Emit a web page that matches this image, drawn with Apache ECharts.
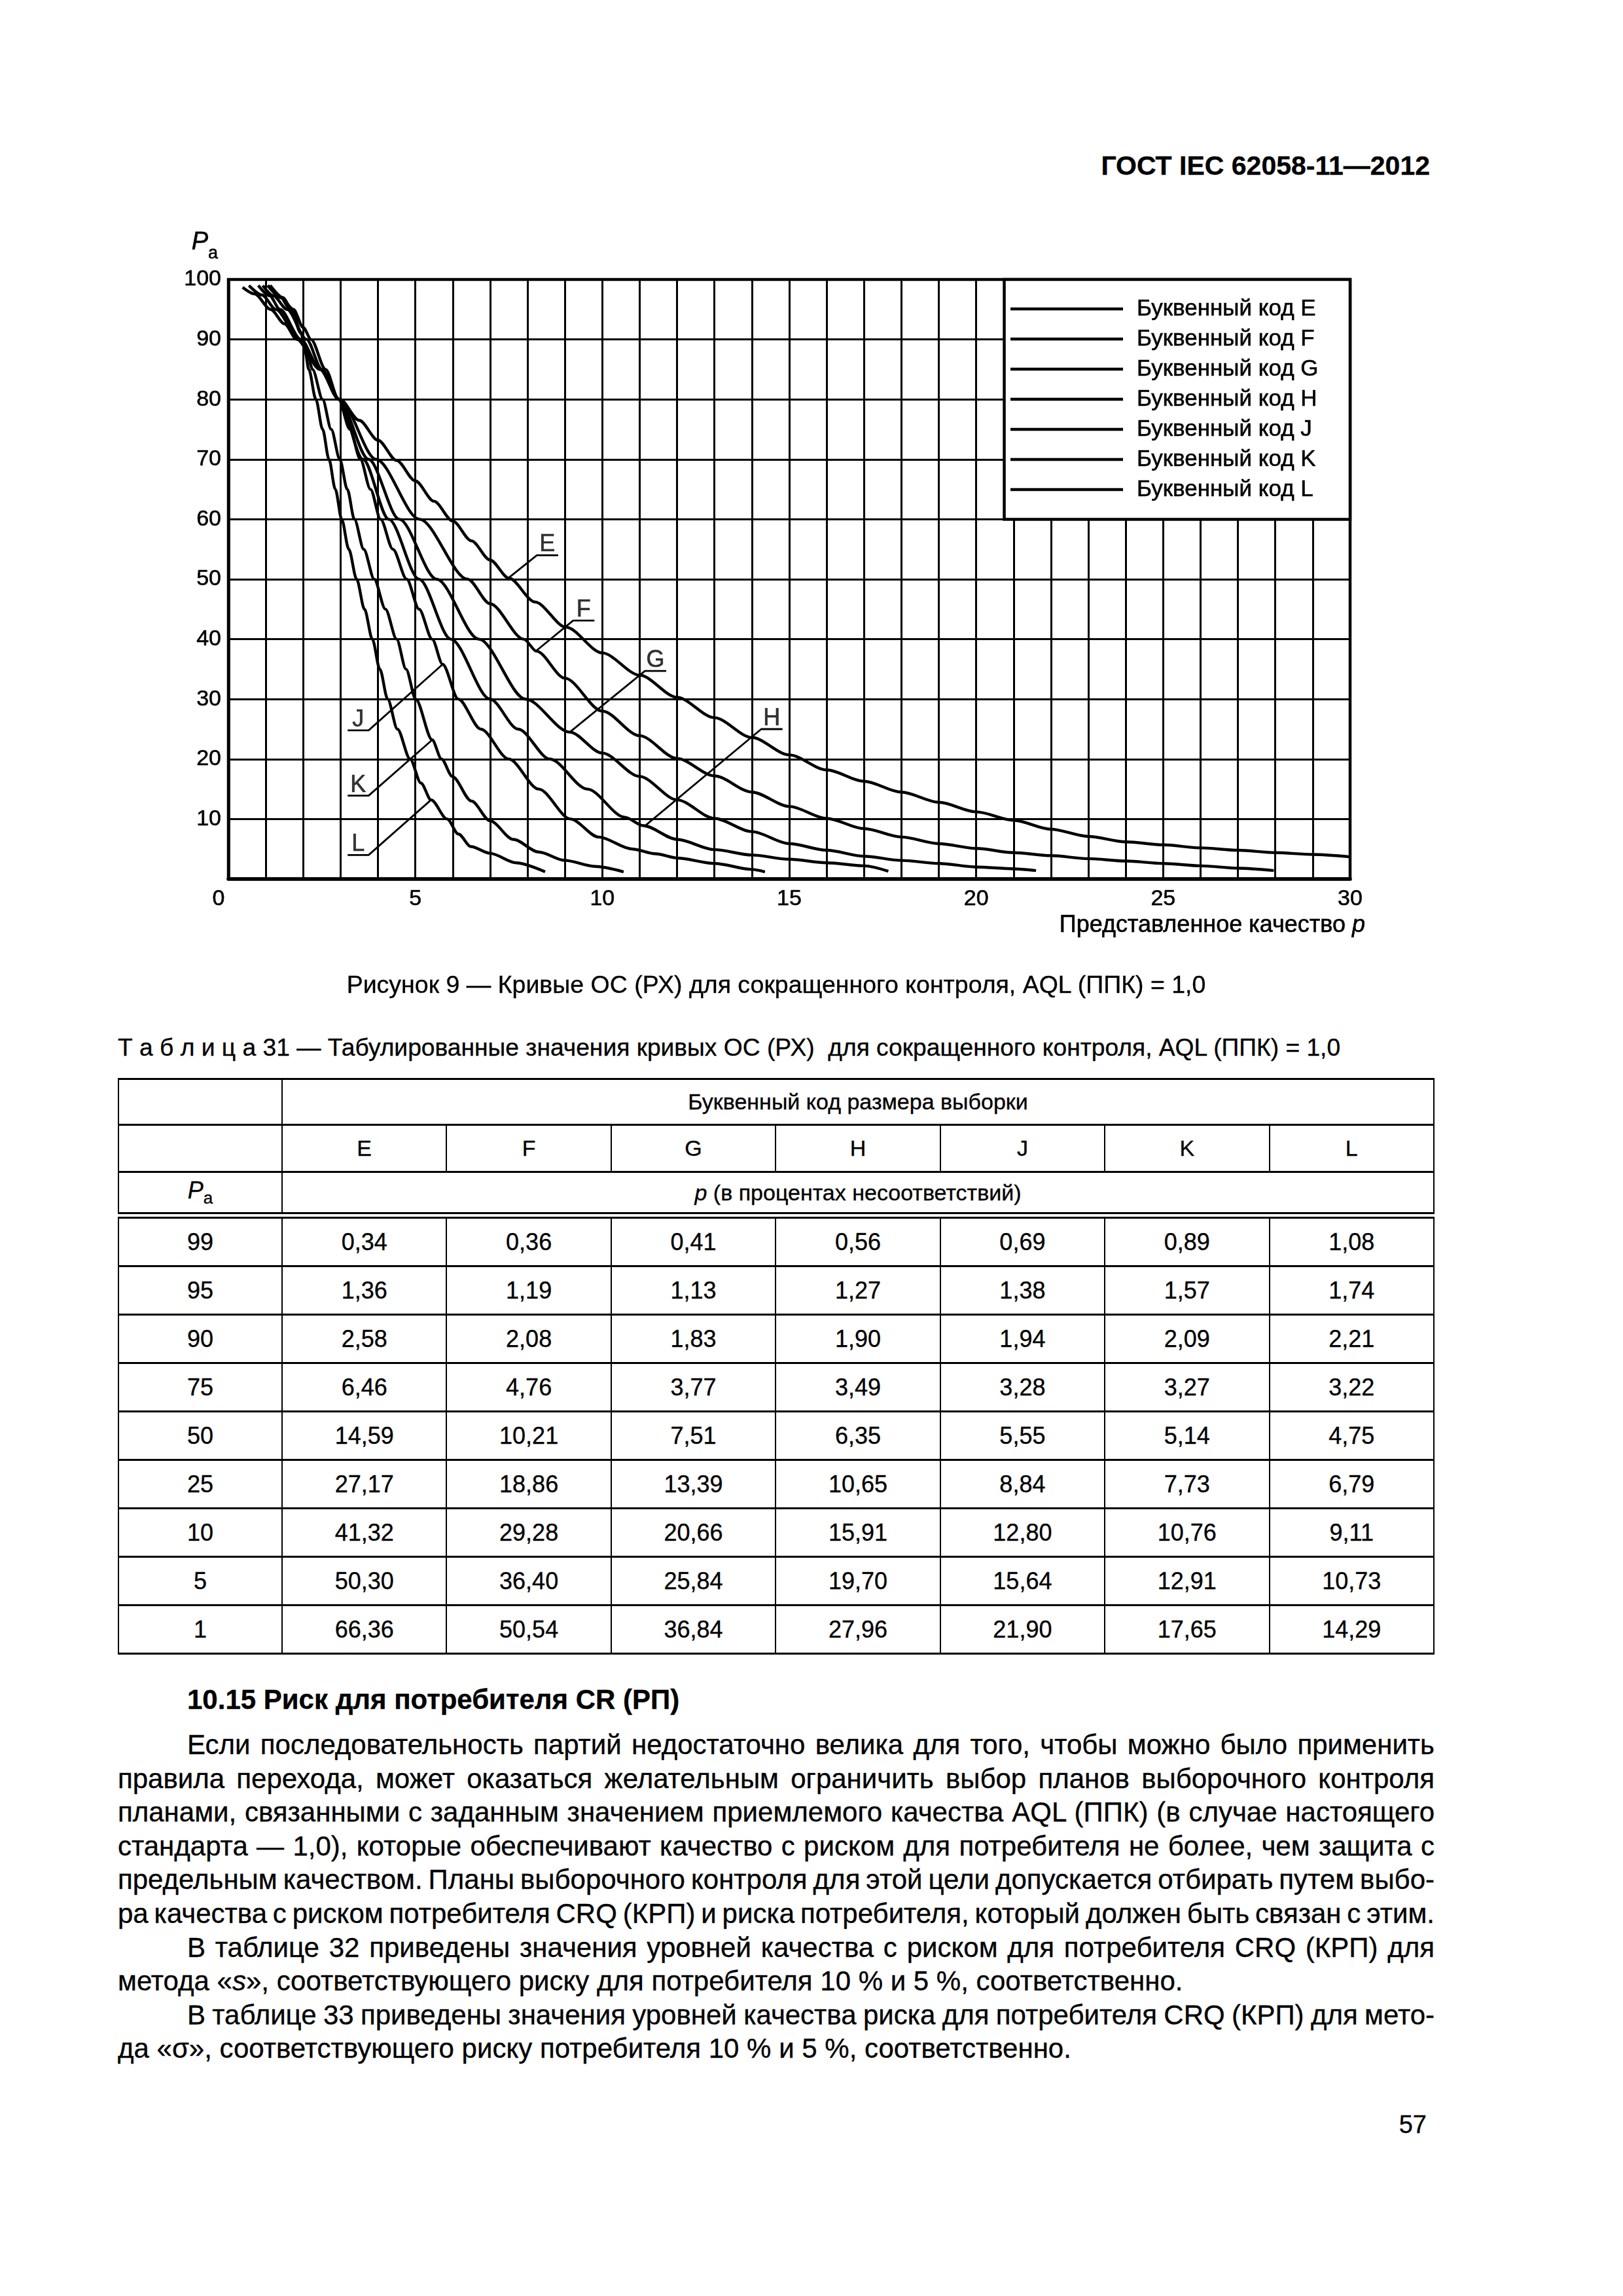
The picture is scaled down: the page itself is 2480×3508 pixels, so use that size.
<!DOCTYPE html>
<html><head><meta charset="utf-8">
<script src="https://cdn.jsdelivr.net/npm/echarts/dist/echarts.min.js"></script>
<style>
html,body{margin:0;padding:0;background:#fff;}
body{width:2480px;height:3508px;position:relative;overflow:hidden;font-family:"Liberation Sans",Arial,sans-serif;color:#000;-webkit-text-stroke:0.35px #000;}
#chart{position:absolute;left:0;top:0;width:2480px;height:1560px;}
.abs{position:absolute;white-space:nowrap;line-height:1.15;}
#hdr{right:295px;top:230px;font-size:41px;font-weight:bold;}
#cap{left:180px;width:2012px;top:1483px;font-size:37.5px;text-align:center;}
#ttl{left:180px;top:1579px;font-size:37.2px;}
table{position:absolute;left:180px;top:1647px;width:2012px;border-collapse:collapse;table-layout:fixed;font-size:36px;}
td{border-left:2px solid #000;border-right:2px solid #000;border-top:3px solid #000;border-bottom:3px solid #000;text-align:center;vertical-align:middle;padding:0;}
tr.h td{font-size:34px;}
tr.dbl td{border-bottom:10px double #000;}
tr.d td{height:71px;}
#h2{left:286px;top:2573px;font-size:42px;font-weight:bold;}
.ln{position:absolute;left:180px;width:2012px;font-size:42px;line-height:51px;white-space:nowrap;}
.ind{left:286px;width:1906px;}
#pg{right:300px;top:3225px;font-size:38px;}
</style></head>
<body>
<div id="hdr" class="abs">ГОСТ IEC 62058-11—2012</div>
<div id="chart"></div>
<div id="cap" class="abs">Рисунок 9 — Кривые ОС (РХ) для сокращенного контроля, AQL (ППК) = 1,0</div>
<div id="ttl" class="abs">Т а б л и ц а 31 — Табулированные значения кривых ОС (РХ)&nbsp; для сокращенного контроля, AQL (ППК) = 1,0</div>
<table id="tbl"></table>
<div id="h2" class="abs">10.15 Риск для потребителя CR (РП)</div>
<div id="txt"></div>
<div id="pg" class="abs">57</div>
<script>
// ---------- chart data (p, Pa) ----------
const curveE = [[0.38,98.7],[0.7,97.6],[1.13,95],[1.5,92.6],[1.83,90],[2.45,85],[2.98,80],[3.5,76.5],[4.0,73.2],[4.5,69.8],[5.0,66.4],[5.5,63.0],[6.0,59.7],[6.5,56.4],[7.0,53.2],[7.5,50.2],[8.2,46.2],[9.03,42],[10,37.7],[11,34.0],[12,30.3],[13,26.9],[14,23.6],[15,20.7],[16,18.2],[17,16.3],[18,14.5],[19,12.8],[20,11.2],[21,9.8],[22,8.3],[23,7.1],[24,6.2],[25,5.7],[26,5.2],[27,4.8],[28,4.4],[29,4.1],[30,3.7]];
const curveF = [[0.55,99],[0.9,97.4],[1.27,95],[1.9,90],[2.45,85],[2.97,80],[3.95,70],[5.11,60],[6.4,50],[7.0,45.9],[7.9,40],[8.24,38],[9.0,33.5],[10,28],[11,23.9],[12,20.1],[13,17.2],[14,14.5],[15,12.1],[16,10.1],[17,8.4],[18,7.0],[19,5.9],[20,5.1],[21,4.4],[22,3.9],[23,3.4],[24,3.0],[25,2.6],[26,2.2],[27,1.8],[27.96,1.4]];
const curveG = [[0.8,99],[1.1,97.3],[1.38,95],[1.94,90],[2.45,85],[2.95,80],[3.75,70],[4.57,60],[5.57,50],[6.7,40],[7.95,30],[9.13,24.5],[10,21],[11,17.1],[12,13.2],[13,10.1],[14,7.9],[15,5.9],[16,4.8],[17,3.8],[18,3.1],[19,2.6],[20,2.0],[21,1.7],[21.6,1.4]];
const curveH = [[0.92,99],[1.2,97.3],[1.57,95],[2.09,90],[2.5,85],[2.95,80],[3.6,70],[4.29,60],[5.1,50],[5.95,40],[7.0,30],[7.75,25],[8.6,20],[9.6,15],[10.6,10.3],[11.1,8.9],[12,6.6],[13,4.9],[14,4.0],[15,3.3],[16,2.7],[17,2.2],[17.65,1.3]];
const curveJ = [[1.05,99],[1.4,97],[1.74,95],[2.0,92],[2.21,90],[2.6,85],[2.95,80],[3.25,75],[3.53,70],[3.8,65],[4.07,60],[4.4,55],[4.77,50],[5.1,45],[5.45,40],[5.73,35.8],[6.15,30],[6.75,25],[7.5,20],[8.3,15],[9.15,10],[9.9,7],[10.8,5],[11.43,4.2],[12,3.5],[13,2.6],[14,1.6],[14.35,1.2]];
const curveK = [[1.08,99],[1.4,97],[1.65,95],[1.95,91],[2.1,88],[2.25,85],[2.52,80],[2.75,75],[2.98,70],[3.18,65],[3.37,60],[3.62,55],[3.9,50],[4.2,45],[4.5,40],[4.75,35],[5.01,30],[5.45,23.2],[5.7,20],[5.99,17.1],[6.5,13],[7.0,9.7],[7.62,6.6],[8.3,4.5],[9.0,3.1],[9.8,2.1],[10.57,1.2]];
const curveL = [[1.12,99],[1.45,97],[1.7,95],[1.95,91],[2.05,88],[2.15,85],[2.34,80],[2.52,75],[2.69,70],[2.86,65],[3.03,60],[3.22,55],[3.43,50],[3.64,45],[3.85,40],[4.05,35],[4.26,30],[4.52,25],[4.86,20],[5.15,16],[5.42,13.2],[5.85,10],[6.15,7.5],[6.49,5.4],[6.99,4.3],[7.7,2.7],[8.47,1.2]];
const curveCodes = ['E','F','G','H','J','K','L'];
const curveNames = curveCodes.map(c => 'Буквенный код ' + c);
const curves = [curveE, curveF, curveG, curveH, curveJ, curveK, curveL];

// leader lines of the curve labels (tip on curve -> knee -> end of underline)
const leaderE = [[7.49,50.2],[8.25,54],[8.82,54]];
const leaderF = [[8.24,38.1],[9.22,43.1],[9.79,43.1]];
const leaderG = [[9.13,24.5],[11.14,34.7],[11.71,34.7]];
const leaderH = [[11.14,8.85],[14.25,25.0],[14.82,25.0]];
const leaderJ = [[5.73,35.8],[3.75,24.8],[3.19,24.8]];
const leaderK = [[5.45,23.2],[3.75,13.9],[3.19,13.9]];
const leaderL = [[5.42,13.2],[3.75,4.0],[3.19,4.0]];
const leaders = [leaderE, leaderF, leaderG, leaderH, leaderJ, leaderK, leaderL];
const labelPoints = [[8.53,54,'E'],[9.5,43.1,'F'],[11.42,34.7,'G'],[14.53,25.0,'H'],[3.47,24.8,'J'],[3.47,13.9,'K'],[3.47,4.0,'L']];

// axis ticks
const pTicks = [0,5,10,15,20,25,30];
const paTicks = [10,20,30,40,50,60,70,80,90,100];
const legendBox = [[20.75,100],[30,60]];

// ---------- table data ----------
const tCodes = ['E','F','G','H','J','K','L'];
const tPa = ['99','95','90','75','50','25','10','5','1'];
const tE = ['0,34','1,36','2,58','6,46','14,59','27,17','41,32','50,30','66,36'];
const tF = ['0,36','1,19','2,08','4,76','10,21','18,86','29,28','36,40','50,54'];
const tG = ['0,41','1,13','1,83','3,77','7,51','13,39','20,66','25,84','36,84'];
const tH = ['0,56','1,27','1,90','3,49','6,35','10,65','15,91','19,70','27,96'];
const tJ = ['0,69','1,38','1,94','3,28','5,55','8,84','12,80','15,64','21,90'];
const tK = ['0,89','1,57','2,09','3,27','5,14','7,73','10,76','12,91','17,65'];
const tL = ['1,08','1,74','2,21','3,22','4,75','6,79','9,11','10,73','14,29'];
const tCols = [tE,tF,tG,tH,tJ,tK,tL];

// ---------- text ----------
const textLines = [
 ['Если последовательность партий недостаточно велика для того, чтобы можно было применить', 'ind j'],
 ['правила перехода, может оказаться желательным ограничить выбор планов выборочного контроля', 'j'],
 ['планами, связанными с заданным значением приемлемого качества AQL (ППК) (в случае настоящего', 'j'],
 ['стандарта — 1,0), которые обеспечивают качество с риском для потребителя не более, чем защита с', 'j'],
 ['предельным качеством. Планы выборочного контроля для этой цели допускается отбирать путем выбо-', 'j'],
 ['ра качества с риском потребителя CRQ (КРП) и риска потребителя, который должен быть связан с этим.', 'j'],
 ['В таблице 32 приведены значения уровней качества с риском для потребителя CRQ (КРП) для', 'ind j'],
 ['метода «<i>s</i>», соответствующего риску для потребителя 10 % и 5 %, соответственно.', ''],
 ['В таблице 33 приведены значения уровней качества риска для потребителя CRQ (КРП) для мето-', 'ind j'],
 ['да «σ», соответствующего риску потребителя 10 % и 5 %, соответственно.', '']
];

// build table and text
(function(){
  const t = document.getElementById('tbl');
  let h = '<colgroup><col style="width:250px">' + tCodes.map(()=>'<col>').join('') + '</colgroup>';
  h += '<tr class="h"><td style="height:67px"></td><td colspan="7">Буквенный код размера выборки</td></tr>';
  h += '<tr class="h"><td style="height:69px"></td>' + tCodes.map(c=>'<td>'+c+'</td>').join('') + '</tr>';
  h += '<tr class="h dbl"><td style="height:60px;font-size:36px"><i>P</i><sub style="font-size:26px">a</sub></td><td colspan="7"><i>p</i> (в процентах несоответствий)</td></tr>';
  tPa.forEach((pa,i)=>{
    h += '<tr class="d"><td>'+pa+'</td>' + tCols.map(c=>'<td>'+c[i]+'</td>').join('') + '</tr>';
  });
  t.innerHTML = h;
  const tx = document.getElementById('txt');
  let s = '';
  textLines.forEach((l,i)=>{
    s += '<div class="ln '+l[1]+'" style="top:'+(2640+i*51.6)+'px"><span>'+l[0]+'</span></div>';
  });
  tx.innerHTML = s;
  document.querySelectorAll('.ln.j').forEach(el=>{
    const sp = el.firstChild;
    const nat = sp.getBoundingClientRect().width;
    const target = el.clientWidth;
    const n = (sp.textContent.match(/ /g)||[]).length;
    if(n>0) el.style.wordSpacing = ((target-nat)/n)+'px';
  });
})();

// ---------- chart ----------
const FF = '"Liberation Sans", Arial, sans-serif';
const TB = {textBorderColor:'#000', textBorderWidth:0.6};
const chart = echarts.init(document.getElementById('chart'), null, {renderer:'canvas', devicePixelRatio:1});
const series = [];
curves.forEach((c,i)=>{
  const s = {
    name: curveNames[i], type:'line', data:c, showSymbol:false, symbol:'none',
    smooth:0.3, smoothMonotone:'x', silent:true,
    lineStyle:{color:'#000', width:4.4}, z:3
  };
  if(i===0){
    s.markArea = {silent:true, itemStyle:{color:'#fff', borderColor:'#000', borderWidth:4.5, opacity:1},
      data:[[{coord:legendBox[0]},{coord:legendBox[1]}]]};
  }
  series.push(s);
});
leaders.forEach((l,i)=>{
  series.push({name:'leader'+curveCodes[i], type:'line', data:l, symbol:'none', showSymbol:false, silent:true,
    lineStyle:{color:'#000', width:2.8}, z:4});
});
series.push({name:'labels', type:'scatter', data:labelPoints, symbolSize:0, silent:true, z:5,
  label:Object.assign({show:true, position:'top', distance:1, formatter:p=>p.value[2], color:'#000', fontSize:36, fontFamily:FF, lineHeight:30}, TB)});

chart.setOption({
  animation:false,
  textStyle:{fontFamily:FF, color:'#000'},
  grid:{left:349, top:427, width:1714, height:916, show:true, borderColor:'#000', borderWidth:4.5, containLabel:false},
  legend:{
    data:curveNames, orient:'vertical', left:1544, top:452, itemWidth:172, itemHeight:4.5, itemGap:6,
    icon:'rect', selectedMode:false, padding:0, z:10,
    itemStyle:{color:'#000'},
    textStyle:Object.assign({fontSize:35, color:'#000', fontFamily:FF, lineHeight:40, padding:[0,0,0,16]}, TB)
  },
  xAxis:{
    type:'value', min:0, max:30, interval:1,
    axisLine:{show:true, onZero:false, lineStyle:{color:'#000', width:5.5}},
    axisTick:{show:false},
    splitLine:{show:true, lineStyle:{color:'#000', width:3}},
    axisLabel:Object.assign({show:true, margin:14, fontSize:34, color:'#000', fontFamily:FF,
      formatter:v=> v===0 ? '{z|0}' : (pTicks.includes(v) ? String(v) : ''),
      rich:{z:Object.assign({fontSize:34, fontFamily:FF, color:'#000', padding:[0,30,0,0]}, TB)}}, TB),
    name:'{t|Представленное качество }{i|p}', nameLocation:'end', nameGap:23,
    nameTextStyle:{align:'right', verticalAlign:'top', padding:[53,0,0,0],
      rich:{t:Object.assign({fontSize:36, fontFamily:FF, color:'#000'}, TB), i:Object.assign({fontSize:36, fontFamily:FF, color:'#000', fontStyle:'italic'}, TB)}}
  },
  yAxis:{
    type:'value', min:0, max:100, interval:10,
    axisLine:{show:true, lineStyle:{color:'#000', width:4.5}},
    axisTick:{show:false},
    splitLine:{show:true, lineStyle:{color:'#000', width:3}},
    axisLabel:Object.assign({show:true, margin:11, fontSize:34, color:'#000', fontFamily:FF,
      formatter:v=> paTicks.includes(v) ? String(v) : ''}, TB),
    name:'{p|P}{a|a}', nameLocation:'end', nameGap:26,
    nameTextStyle:{align:'right', padding:[0,16,0,0],
      rich:{p:Object.assign({fontSize:38, fontFamily:FF, color:'#000', fontStyle:'italic', lineHeight:50, verticalAlign:'top'}, TB),
            a:Object.assign({fontSize:27, fontFamily:FF, color:'#000', lineHeight:22, verticalAlign:'bottom'}, TB)}}
  },
  series:series
});
</script>
</body></html>
